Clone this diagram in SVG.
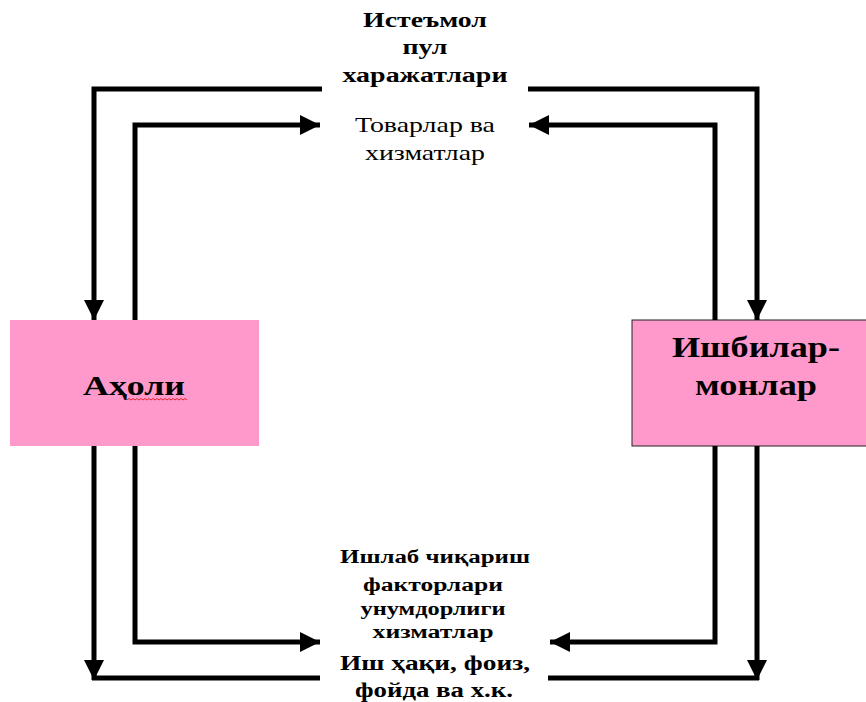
<svg xmlns="http://www.w3.org/2000/svg" width="866" height="702" viewBox="0 0 866 702">
<style>
.ln{fill:none;stroke:#000;stroke-width:5;stroke-linejoin:miter;stroke-linecap:butt}
.t{font-family:"Liberation Serif","DejaVu Serif",serif;fill:#000;text-anchor:middle}
.b{font-weight:bold}
.box{fill:#ff99cc}
</style>
<defs>
<marker id="ah" markerUnits="userSpaceOnUse" markerWidth="22" markerHeight="22" refX="20" refY="10" orient="auto">
<path d="M0,0 L20,10 L0,20 Z" fill="#000"/>
</marker>
</defs>
<rect width="866" height="702" fill="#fff"/>
<g id="node-aholi">
<rect class="box" x="10" y="320" width="249" height="126"/>
<text class="t b" x="134" y="395" font-size="28" textLength="102" lengthAdjust="spacingAndGlyphs">Аҳоли</text>
<path d="M127,400 l2,-1.5 l2,1.5 l2,-1.5 l2,1.5 l2,-1.5 l2,1.5 l2,-1.5 l2,1.5 l2,-1.5 l2,1.5 l2,-1.5 l2,1.5 l2,-1.5 l2,1.5 l2,-1.5 l2,1.5 l2,-1.5 l2,1.5 l2,-1.5 l2,1.5 l2,-1.5 l2,1.5 l2,-1.5 l2,1.5 l2,-1.5 l2,1.5 l2,-1.5 l2,1.5 l2,-1.5 l2,1.5" fill="none" stroke="#e0202a" stroke-width="1"/>
</g>
<g id="node-ishbilarmonlar">
<rect class="box" x="632" y="320" width="240" height="126" stroke="#222" stroke-width="1"/>
<text class="t b" x="756" y="357" font-size="30" textLength="168" lengthAdjust="spacingAndGlyphs">Ишбилар-</text>
<text class="t b" x="756" y="395" font-size="30" textLength="122" lengthAdjust="spacingAndGlyphs">монлар</text>
</g>
<g id="labels">
<text class="t b" x="425" y="27" font-size="20" textLength="124" lengthAdjust="spacingAndGlyphs">Истеъмол</text>
<text class="t b" x="425" y="54" font-size="20" textLength="45" lengthAdjust="spacingAndGlyphs">пул</text>
<text class="t b" x="425" y="82" font-size="20" textLength="165" lengthAdjust="spacingAndGlyphs">харажатлари</text>
<text class="t" x="425" y="132" font-size="21" textLength="140" lengthAdjust="spacingAndGlyphs">Товарлар ва</text>
<text class="t" x="425" y="160" font-size="21" textLength="120" lengthAdjust="spacingAndGlyphs">хизматлар</text>
<text class="t b" x="435" y="563" font-size="18" textLength="190" lengthAdjust="spacingAndGlyphs">Ишлаб чиқариш</text>
<text class="t b" x="433" y="591" font-size="18" textLength="140" lengthAdjust="spacingAndGlyphs">факторлари</text>
<text class="t b" x="433" y="615" font-size="18" textLength="145" lengthAdjust="spacingAndGlyphs">унумдорлиги</text>
<text class="t b" x="433" y="638" font-size="18" textLength="121" lengthAdjust="spacingAndGlyphs">хизматлар</text>
<text class="t b" x="435" y="670" font-size="20" textLength="190" lengthAdjust="spacingAndGlyphs">Иш ҳақи, фоиз,</text>
<text class="t b" x="434" y="697" font-size="20" textLength="158" lengthAdjust="spacingAndGlyphs">фойда ва х.к.</text>
</g>
<g id="connectors">
<path class="ln" d="M322,89 H94 V320" marker-end="url(#ah)"/>
<path class="ln" d="M528,89 H757 V320" marker-end="url(#ah)"/>
<path class="ln" d="M135,320 V125 H320" marker-end="url(#ah)"/>
<path class="ln" d="M715,320 V125 H529" marker-end="url(#ah)"/>
<path class="ln" d="M135,446 V642 H320" marker-end="url(#ah)"/>
<path class="ln" d="M715,446 V642 H550" marker-end="url(#ah)"/>
<path class="ln" d="M94,446 V680" marker-end="url(#ah)"/>
<path class="ln" d="M92,678 H320"/>
<path class="ln" d="M757,446 V680" marker-end="url(#ah)"/>
<path class="ln" d="M548,678 H759"/>
</g>
</svg>
